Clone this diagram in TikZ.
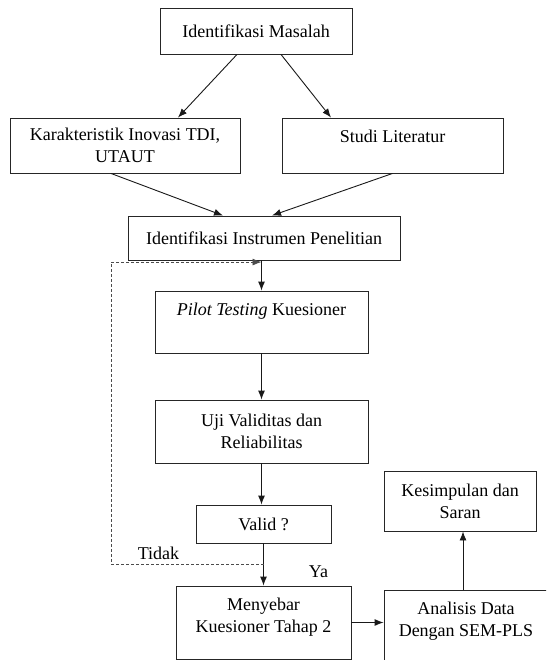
\documentclass[tikz,border=0pt]{standalone}
\usepackage{fontspec}
\setmainfont{Liberation Serif}
\usetikzlibrary{arrows.meta,calc,positioning}

\tikzset{
  every node/.style={font=\fontsize{18}{22}\selectfont},
  box/.style={draw=black!85, line width=0.9pt, align=center, inner sep=0pt},
  toptext/.style={label={[anchor=north, inner sep=0pt, yshift=-12pt, align=center]north:{#1}}},
  arr/.style={black!90, line width=0.9pt, -{Latex[length=9pt,width=7pt]}},
  retry/.style={black!70, line width=0.8pt, dash pattern=on 3pt off 2pt, -{Latex[length=9pt,width=7pt]}},
  lbl/.style={inner sep=0pt},
}

\begin{document}
\begin{tikzpicture}[x=1pt, y=-1pt]

    \useasboundingbox (0,0) rectangle (546,660);
    \fill[white] (0,0) rectangle (546,660);
    \clip (0,0) rectangle (546,660);

    % boxes
    \node[box, minimum width=192pt, minimum height=46pt] (masalah) at (256,31) {Identifikasi Masalah};
    \node[box, minimum width=230pt, minimum height=55pt] (karakter) at (125,145.5) {Karakteristik Inovasi TDI,\\UTAUT};
    \node[box, minimum width=221pt, minimum height=55pt, toptext={Studi Literatur}] (studi) at (392.5,145.5) {};
    \node[box, minimum width=272pt, minimum height=44pt] (instrumen) at (264,238) {Identifikasi Instrumen Penelitian};
    \node[box, minimum width=213pt, minimum height=62pt, toptext={\textit{Pilot Testing} Kuesioner}] (pilot) at (261.5,322) {};
    \node[box, minimum width=213pt, minimum height=63pt] (uji) at (261.5,431.5) {Uji Validitas dan\\Reliabilitas};
    \node[box, minimum width=135pt, minimum height=38pt] (valid) at (263.5,524) {Valid ?};
    \node[box, minimum width=152pt, minimum height=60pt] (simpulan) at (460,501) {Kesimpulan dan\\Saran};
    \node[box, minimum width=175pt, minimum height=73pt, toptext={Menyebar\\Kuesioner Tahap 2}] (sebar) at (263.5,622.5) {};
    \node[box, minimum width=164pt, minimum height=90pt, toptext={Analisis Data\\Dengan SEM-PLS}] (analisis) at (466,635) {};

    % arrows
    \draw[arr] ([xshift=-19pt]masalah.south) -- ([xshift=53pt]karakter.north);
    \draw[arr] ([xshift=25pt]masalah.south) -- ([xshift=-61.5pt]studi.north);
    \draw[arr] ([xshift=-14pt]karakter.south) -- ([xshift=-41pt]instrumen.north);
    \draw[arr] (studi.south) -- ([xshift=8pt]instrumen.north);
    \draw[arr] (instrumen.south -| pilot.north) -- (pilot.north);
    \draw[arr] (pilot) -- (uji);
    \draw[arr] (uji.south) -- (uji.south |- valid.north);
    \draw[arr] (valid.south) -- (valid.south |- sebar.north);
    \draw[arr] (sebar.east) -- (sebar.east -| analisis.west);
    \draw[arr] ([xshift=-3pt]analisis.north) -- ([xshift=-3pt]analisis.north |- simpulan.south);

    % back to pilot testing
    \coordinate (split) at ($(valid.south)+(0,21)$);
    \coordinate (rejoin) at ($(pilot.north)+(0,-28.5)$);
    \draw[retry] (split) -- ++(-152.5,0) |- (rejoin);

    \node[lbl] (tidak) at ($(split)+(-105,-11)$) {Tidak};
    \node[lbl] (ya) at ($(split)+(55,7)$) {Ya};

\end{tikzpicture}
\end{document}
